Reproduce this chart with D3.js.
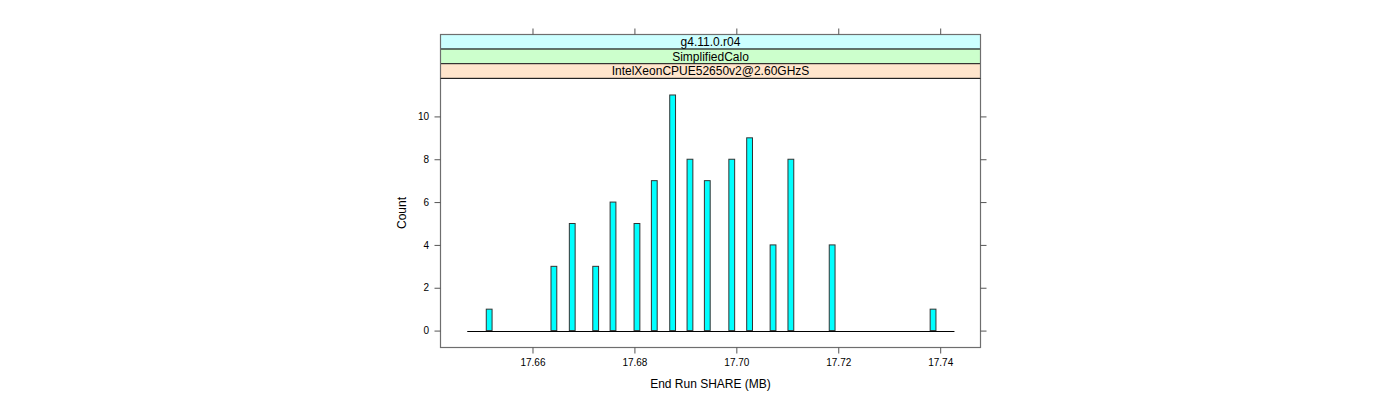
<!DOCTYPE html>
<html>
<head>
<meta charset="utf-8">
<script src="https://cdn.jsdelivr.net/npm/d3@7"></script>
<style>
  html, body { margin: 0; padding: 0; background: #fff; }
  svg { display: block; }
  text { font-family: "Liberation Sans", Arial, Helvetica, sans-serif; fill: #000; }
</style>
</head>
<body>
<svg id="chart" width="1400" height="400"></svg>
<script>
// ---- data ----
const shareValues = [17.6515, 17.6642, 17.6678, 17.6724, 17.6758, 17.6805, 17.6839, 17.6875,
                     17.6909, 17.6943, 17.6991, 17.7026, 17.7072, 17.7107, 17.7188, 17.7386];
const counts      = [1, 3, 5, 3, 6, 5, 7, 11, 8, 7, 8, 9, 4, 8, 4, 1];
const baseRange   = [17.6472, 17.7428];
const xTicks      = [17.66, 17.68, 17.70, 17.72, 17.74];
const yTicks      = [0, 2, 4, 6, 8, 10];
const stripLabels = ["g4.11.0.r04", "SimplifiedCalo", "IntelXeonCPUE52650v2@2.60GHzS"];
const stripColors = ["#ccffff", "#ccffcc", "#ffe5cc"];
const xTitle = "End Run SHARE (MB)";
const yTitle = "Count";

// ---- layout ----
const panel = { left: 440.5, right: 980.5, top: 78.5, bottom: 347.5 };
const stripTop = 34.5, stripH = 14.6;
const barW = 5.8;

const svg = d3.select("#chart");
const x = d3.scaleLinear().domain([17.64195, 17.74791]).range([panel.left, panel.right]);
const y = d3.scaleLinear().domain([-0.79, 11.77]).range([panel.bottom, panel.top]);

// strips
const strips = svg.append("g");
stripLabels.forEach((lab, i) => {
  const y0 = stripTop + i * stripH;
  strips.append("rect")
    .attr("x", panel.left).attr("y", y0)
    .attr("width", panel.right - panel.left).attr("height", stripH)
    .attr("fill", stripColors[i]).attr("stroke", "#222").attr("stroke-width", 1);
  strips.append("text")
    .attr("x", (panel.left + panel.right) / 2).attr("y", y0 + stripH / 2)
    .attr("dy", "0.36em").attr("text-anchor", "middle")
    .attr("font-size", 12).text(lab);
});

// baseline
svg.append("line")
  .attr("x1", x(baseRange[0])).attr("x2", x(baseRange[1]))
  .attr("y1", Math.round(y(0)) + 0.5).attr("y2", Math.round(y(0)) + 0.5)
  .attr("stroke", "#000").attr("stroke-width", 1);

// bars
svg.append("g").selectAll("rect")
  .data(shareValues.map((v, i) => ({ v, c: counts[i] })))
  .join("rect")
  .attr("x", d => x(d.v) - barW / 2)
  .attr("y", d => y(d.c))
  .attr("width", barW)
  .attr("height", d => y(0) - y(d.c))
  .attr("fill", "#00ffff")
  .attr("stroke", "#333").attr("stroke-width", 1);

// panel border
svg.append("rect")
  .attr("x", panel.left).attr("y", stripTop)
  .attr("width", panel.right - panel.left).attr("height", panel.bottom - stripTop)
  .attr("fill", "none").attr("stroke", "#6e6e6e").attr("stroke-width", 1.2);
svg.append("line")
  .attr("x1", panel.left).attr("x2", panel.right)
  .attr("y1", panel.top).attr("y2", panel.top)
  .attr("stroke", "#222");

// axes
const tickCol = "#555";
const bottomAxis = d3.axisBottom(x).tickValues(xTicks).tickFormat(d3.format(".2f")).tickSize(6).tickPadding(5.5);
const gB = svg.append("g").attr("transform", `translate(0,${panel.bottom})`).call(bottomAxis);
const topAxis = d3.axisTop(x).tickValues(xTicks).tickFormat("").tickSize(6);
const gT = svg.append("g").attr("transform", `translate(0,${stripTop})`).call(topAxis);
const leftAxis = d3.axisLeft(y).tickValues(yTicks).tickFormat(d3.format("d")).tickSize(6).tickPadding(5.5);
const gL = svg.append("g").attr("transform", `translate(${panel.left},0)`).call(leftAxis);
const rightAxis = d3.axisRight(y).tickValues(yTicks).tickFormat("").tickSize(6);
const gR = svg.append("g").attr("transform", `translate(${panel.right},0)`).call(rightAxis);

[gB, gT, gL, gR].forEach(g => {
  g.select(".domain").remove();
  g.selectAll(".tick line").attr("stroke", tickCol);
  g.selectAll(".tick text").attr("font-size", 10)
    .attr("font-family", '"Liberation Sans", Arial, sans-serif').attr("fill", "#000");
});

// titles
svg.append("text")
  .attr("x", (panel.left + panel.right) / 2).attr("y", 383.5)
  .attr("dy", "0.36em").attr("text-anchor", "middle").attr("font-size", 12)
  .text(xTitle);
svg.append("text")
  .attr("transform", `translate(402,${(panel.top + panel.bottom) / 2}) rotate(-90)`)
  .attr("dy", "0.36em").attr("text-anchor", "middle").attr("font-size", 12)
  .text(yTitle);
</script>
</body>
</html>
